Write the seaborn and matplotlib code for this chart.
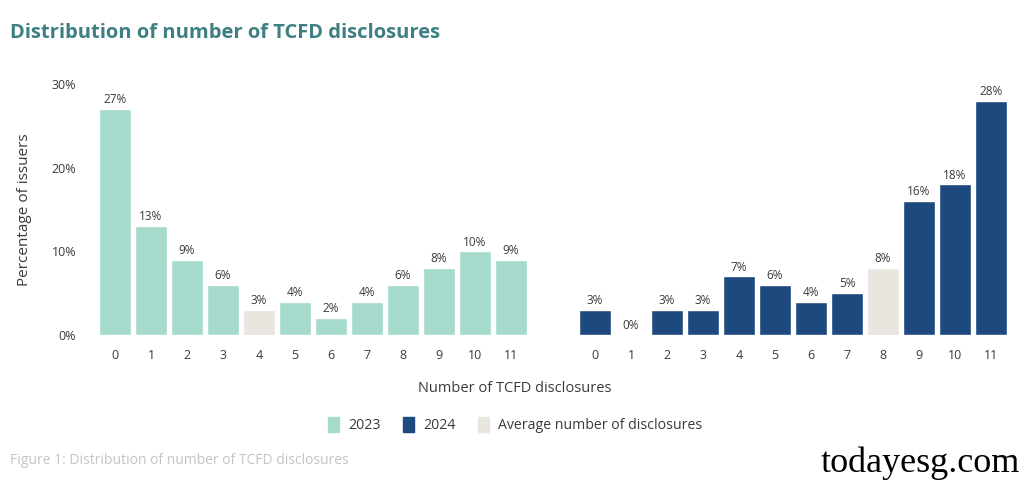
import matplotlib
matplotlib.use("Agg")
import matplotlib.pyplot as plt
from matplotlib.patches import Patch
import seaborn as sns
import pandas as pd

# data
disclosures = list(range(12))
share_2023 = [27, 13, 9, 6, 3, 4, 2, 4, 6, 8, 10, 9]
share_2024 = [3, 0, 3, 3, 7, 6, 4, 5, 8, 16, 18, 28]
avg_2023 = 4
avg_2024 = 8
yticks = [0, 10, 20, 30]

TEAL = "#a5dacc"
NAVY = "#1e497f"
AVG = "#e9e6df"
TXT = "#3a3a3a"

sns.set_theme(style="white")
plt.rcParams["font.family"] = ["Open Sans", "DejaVu Sans"]


def make_frame(vals, year, avg):
    return pd.DataFrame({
        "n": disclosures,
        "pct": vals,
        "group": [("avg" if n == avg else year) for n in disclosures],
    })


df23 = make_frame(share_2023, "2023", avg_2023)
df24 = make_frame(share_2024, "2024", avg_2024)
pal = {"2023": TEAL, "2024": NAVY, "avg": AVG}

fig = plt.figure(figsize=(10.24, 4.83), dpi=100)
ax1 = fig.add_axes([97 / 1024, (483 - 335) / 483, 432 / 1024, (335 - 84) / 483])
ax2 = fig.add_axes([577 / 1024, (483 - 335) / 483, 432 / 1024, (335 - 84) / 483])

for ax, df in [(ax1, df23), (ax2, df24)]:
    sns.barplot(data=df, x="n", y="pct", hue="group", palette=pal, dodge=False,
                width=0.9, saturation=1, legend=False, ax=ax)
    ax.set_xlim(-0.5, 11.5)
    ax.set_ylim(0, 30)
    ax.set_xlabel("")
    ax.set_ylabel("")
    for c in ax.containers:
        ax.bar_label(c, fmt="%d%%", padding=2, fontsize=8.5, color=TXT)
    for s in ax.spines.values():
        s.set_visible(False)
    ax.tick_params(axis="x", length=0, pad=10, labelsize=9, labelcolor=TXT)

ax1.set_yticks(yticks)
ax1.set_yticklabels([f"{t}%" for t in yticks])
ax1.tick_params(axis="y", length=0, pad=15, labelsize=9, labelcolor=TXT)
ax1.set_ylabel("Percentage of issuers", fontsize=11, color=TXT, labelpad=14)
ax2.set_yticks([])

fig.text(10 / 1024, 1 - 33 / 483, "Distribution of number of TCFD disclosures",
         fontsize=14.5, fontweight="bold", color="#3e7f82", va="center", ha="left")
fig.text(515 / 1024, 1 - 389 / 483, "Number of TCFD disclosures",
         fontsize=10.5, color=TXT, ha="center", va="center")

handles = [Patch(color=TEAL, label="2023"), Patch(color=NAVY, label="2024"),
           Patch(color=AVG, label="Average number of disclosures")]
fig.legend(handles=handles, loc="center", bbox_to_anchor=(515 / 1024, 1 - 425 / 483),
           ncol=3, frameon=False, fontsize=10.2, handlelength=0.8, handleheight=1.2,
           handletextpad=0.6, columnspacing=1.6, labelcolor=TXT)

fig.text(10 / 1024, 1 - 461 / 483, "Figure 1: Distribution of number of TCFD disclosures",
         fontsize=10, color="#c4c4c4", ha="left", va="center")
fig.text(1020 / 1024, 1 - 463 / 483, "todayesg.com", family="Liberation Serif",
         fontsize=26, color="black", ha="right", va="center")

fig.savefig("out.png", dpi=100)
